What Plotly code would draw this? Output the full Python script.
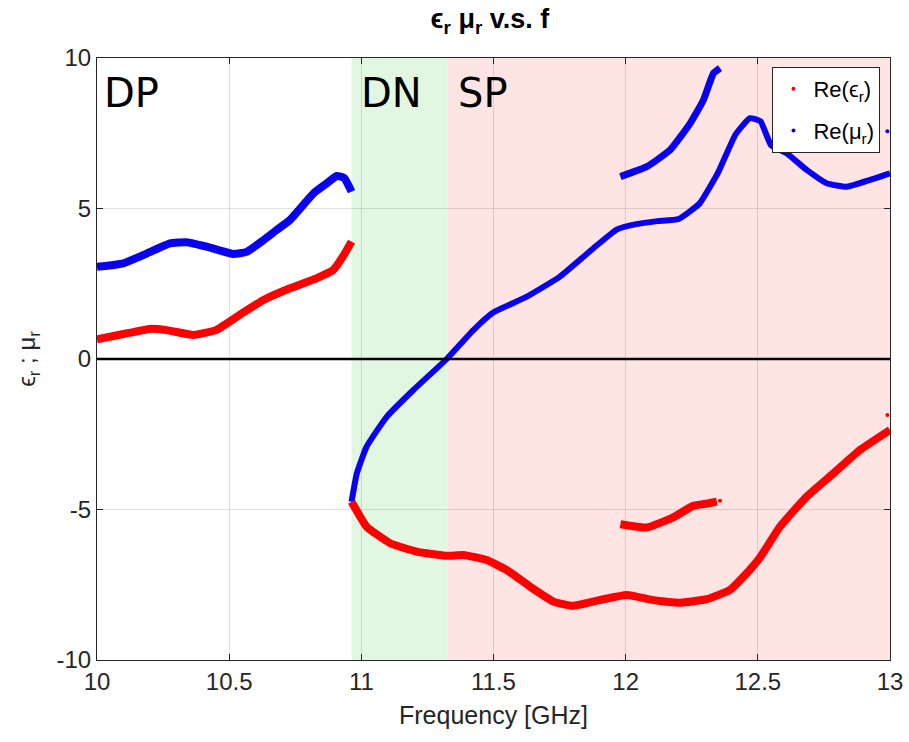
import plotly.graph_objects as go

# ---- data ----
mu_dp_f = [10.0, 10.1, 10.19, 10.276, 10.34, 10.415, 10.515, 10.566, 10.63, 10.68, 10.73, 10.82, 10.87, 10.907, 10.935, 10.963]
mu_dp_v = [3.06, 3.18, 3.51, 3.84, 3.88, 3.73, 3.49, 3.56, 3.95, 4.29, 4.62, 5.51, 5.84, 6.08, 6.02, 5.56]

eps_dp_f = [10.0, 10.1, 10.2, 10.264, 10.365, 10.45, 10.53, 10.63, 10.73, 10.83, 10.894, 10.93, 10.963]
eps_dp_v = [0.65, 0.83, 1.0, 0.96, 0.80, 0.96, 1.41, 1.96, 2.35, 2.68, 2.96, 3.40, 3.90]

mu_main_f = [10.963, 10.983, 11.02, 11.096, 11.197, 11.323, 11.424, 11.5, 11.626, 11.75, 11.878,
             11.966, 12.04, 12.12, 12.2, 12.28, 12.35, 12.415, 12.47, 12.51, 12.55, 12.61, 12.685, 12.76,
             12.837, 12.925, 13.0]
mu_main_v = [-4.74, -3.80, -2.91, -1.92, -1.03, 0.0, 0.96, 1.55, 2.07, 2.73, 3.68,
             4.30, 4.48, 4.58, 4.65, 5.17, 6.2, 7.45, 8.0, 7.9, 7.1, 6.83, 6.28, 5.84,
             5.72, 5.95, 6.17]

eps_main_f = [10.963, 11.02, 11.109, 11.21, 11.323, 11.386, 11.474, 11.55, 11.638, 11.727, 11.80, 11.90,
              12.004, 12.105, 12.206, 12.307, 12.395, 12.458, 12.508, 12.584, 12.685, 12.786, 12.887, 13.0]
eps_main_v = [-4.74, -5.57, -6.12, -6.40, -6.54, -6.51, -6.68, -7.01, -7.56, -8.06, -8.2, -8.01,
              -7.84, -8.01, -8.1, -7.98, -7.67, -7.12, -6.6, -5.57, -4.57, -3.80, -3.02, -2.36]

mu_up_f = [11.98, 12.08, 12.168, 12.244, 12.294, 12.332, 12.357]
mu_up_v = [6.06, 6.39, 6.94, 7.83, 8.60, 9.49, 9.66]

eps_up_f = [11.98, 12.08, 12.18, 12.255, 12.31, 12.345]
eps_up_v = [-5.49, -5.6, -5.26, -4.88, -4.8, -4.74]

mu_out_f = [12.99]
mu_out_v = [7.57]
eps_out_f = [12.99, 12.357]
eps_out_v = [-1.86, -4.71]

x_ticks = [10, 10.5, 11, 11.5, 12, 12.5, 13]
x_tick_text = ["10", "10.5", "11", "11.5", "12", "12.5", "13"]
y_ticks = [-10, -5, 0, 5, 10]
y_tick_text = ["-10", "-5", "0", "5", "10"]

regions = ["DP", "DN", "SP"]
region_x = [10.02, 10.99, 11.36]
region_y = [8.85, 8.85, 8.85]
dn_range = [10.963, 11.325]
sp_range = [11.325, 13.0]

BLUE = "#0a00f0"
RED = "#ff0000"

fig = go.Figure()

def line(xs, ys, color, w):
    fig.add_trace(go.Scatter(x=xs, y=ys, mode="lines",
                             line=dict(color=color, width=w, shape="spline", smoothing=0.4),
                             showlegend=False, hoverinfo="skip"))

line(mu_dp_f, mu_dp_v, BLUE, 8)
line(eps_dp_f, eps_dp_v, RED, 8)
line(mu_main_f, mu_main_v, BLUE, 6)
line(eps_main_f, eps_main_v, RED, 8)
line(mu_up_f, mu_up_v, BLUE, 7)
line(eps_up_f, eps_up_v, RED, 8)

fig.add_trace(go.Scatter(x=mu_out_f, y=mu_out_v, mode="markers", marker=dict(color=BLUE, size=4),
                         showlegend=False, hoverinfo="skip"))
fig.add_trace(go.Scatter(x=eps_out_f, y=eps_out_v, mode="markers", marker=dict(color=RED, size=4),
                         showlegend=False, hoverinfo="skip"))

# legend entries
fig.add_trace(go.Scatter(x=[None], y=[None], mode="markers", marker=dict(color=RED, size=4),
                         name="Re(ϵ<sub>r</sub>)", legendgroup="a"))
fig.add_trace(go.Scatter(x=[None], y=[None], mode="markers", marker=dict(color=BLUE, size=4),
                         name="Re(μ<sub>r</sub>)", legendgroup="b"))

# shaded regions
fig.add_shape(type="rect", xref="x", yref="paper", x0=dn_range[0], x1=dn_range[1], y0=0, y1=1,
              fillcolor="rgb(226,247,226)", line_width=0, layer="below")
fig.add_shape(type="rect", xref="x", yref="paper", x0=sp_range[0], x1=sp_range[1], y0=0, y1=1,
              fillcolor="rgb(255,228,228)", line_width=0, layer="below")
fig.add_shape(type="line", xref="paper", yref="y", x0=0, x1=1, y0=0, y1=0,
              line=dict(color="black", width=2.5), layer="above")

for t, xx, yy in zip(regions, region_x, region_y):
    fig.add_annotation(x=xx, y=yy, text=t, showarrow=False, xanchor="left", yanchor="middle",
                       font=dict(family="DejaVu Sans", size=40, color="black"))

axis_common = dict(showline=True, linecolor="#262626", linewidth=1, mirror="ticks", ticks="inside",
                   ticklen=6, tickcolor="#262626", showgrid=True, gridcolor="rgba(0,0,0,0.12)",
                   gridwidth=1, zeroline=False, automargin=False,
                   tickfont=dict(family="Liberation Sans", size=24, color="#262626"))

fig.update_xaxes(range=[10, 13], tickvals=x_ticks, ticktext=x_tick_text,
                 title=dict(text="Frequency [GHz]", font=dict(family="Liberation Sans", size=25, color="#262626"),
                            standoff=12),
                 **axis_common)
fig.update_yaxes(range=[-10, 10], tickvals=y_ticks, ticktext=y_tick_text,
                 title=dict(text="ϵ<sub>r</sub> ; μ<sub>r</sub>", font=dict(family="Liberation Sans", size=24, color="#262626"),
                            standoff=14),
                 **axis_common)

fig.update_layout(
    width=909, height=742,
    margin=dict(l=97, r=19, t=58, b=82, autoexpand=False),
    paper_bgcolor="white", plot_bgcolor="white",
    title=dict(text="<b>ϵ<sub>r</sub> μ<sub>r</sub> v.s. f</b>", x=0.539, xanchor="center",
               y=0.975, yref="container", yanchor="middle",
               font=dict(family="Liberation Sans", size=27, color="black")),
    legend=dict(x=0.988, y=0.985, xanchor="right", yanchor="top", bgcolor="white",
                bordercolor="#262626", borderwidth=1, font=dict(family="Liberation Sans", size=22, color="black"),
                tracegroupgap=10),
    showlegend=True,
)

fig.write_html("out.html", config={"displayModeBar": False},
               post_script="document.body.style.margin='0';")
